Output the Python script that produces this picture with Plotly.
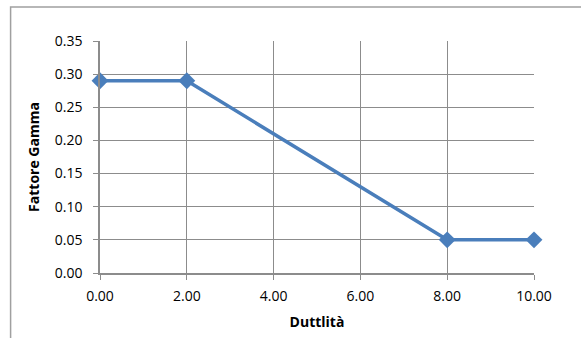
import plotly.graph_objects as go

# Duttilità vs fattore gamma
duttilita = [0.0, 2.0, 8.0, 10.0]
fattore_gamma = [0.29, 0.29, 0.05, 0.05]

x_ticks = [0, 2, 4, 6, 8, 10]
y_ticks = [0.0, 0.05, 0.10, 0.15, 0.20, 0.25, 0.30, 0.35]

LINE_BLUE = "#4A7EBB"
GRID = "#8C8C8C"
FONT = "'Open Sans', Lato, sans-serif"

fig = go.Figure()
fig.add_trace(go.Scatter(
    x=duttilita, y=fattore_gamma,
    mode="lines+markers",
    line=dict(color=LINE_BLUE, width=3.5),
    marker=dict(symbol="diamond", size=13, color=LINE_BLUE),
    showlegend=False, cliponaxis=False,
))

# Chart-area border
fig.add_shape(type="rect", xref="paper", yref="paper",
              x0=-0.206, x1=1.2, y0=-0.4, y1=1.1466,
              line=dict(color="#A0A0A0", width=1.5), layer="below")

axis_common = dict(
    showline=True, linecolor=GRID, linewidth=1.5,
    showgrid=True, gridcolor=GRID, gridwidth=1,
    ticks="outside", ticklen=5, tickcolor=GRID,
    tickfont=dict(family=FONT, size=14, color="#000"),
    tickformat=".2f", zeroline=False, automargin=False,
)

title_font = dict(family=FONT, size=14, color="#000")

fig.update_xaxes(range=[0, 10], tickvals=x_ticks, ticklabelstandoff=4,
                 title=dict(text="<b>Duttlità</b>", font=title_font, standoff=14),
                 **axis_common)
fig.update_yaxes(range=[0, 0.35], tickvals=y_ticks, ticklabelstandoff=8,
                 title=dict(text="<b>Fattore Gamma</b>", font=title_font, standoff=12),
                 **axis_common)

fig.update_layout(
    width=581, height=338,
    margin=dict(l=100, r=47, t=41, b=65, autoexpand=False),
    paper_bgcolor="white", plot_bgcolor="white",
)

fig.write_html("out.html")
